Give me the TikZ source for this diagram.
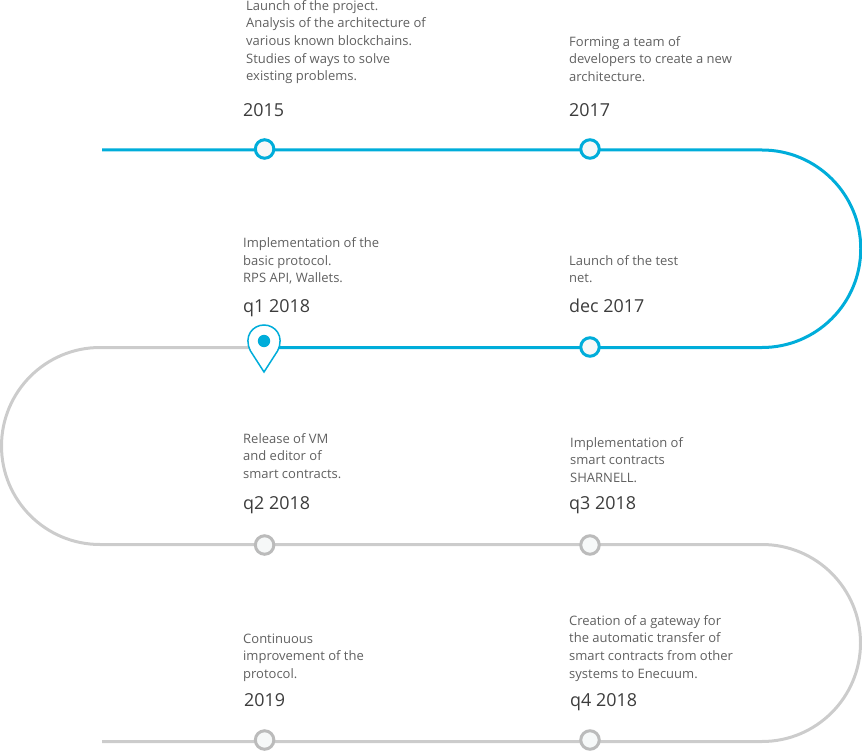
\documentclass[tikz,border=0pt]{standalone}
\usepackage{fontspec}
\setmainfont{Open Sans}
\definecolor{bluec}{HTML}{00ADDA}
\definecolor{grayc}{HTML}{CCCCCC}
\definecolor{grayd}{HTML}{BBBBBB}
\definecolor{dotfill}{HTML}{F6F8F8}
\definecolor{txt}{HTML}{606060}
\definecolor{yr}{HTML}{3C3C3C}
\tikzset{x=1pt,y=-1pt,
 bl/.style={draw=bluec,line width=3pt},
 gl/.style={draw=grayc,line width=3pt},
 bdot/.style={circle,draw=bluec,line width=3pt,fill=dotfill,minimum size=18.5pt,inner sep=0pt},
 gdot/.style={circle,draw=grayd,line width=3pt,fill=dotfill,minimum size=18.5pt,inner sep=0pt},
 desc/.style={anchor=north west,inner sep=0pt,align=left,text=txt,font=\fontsize{13}{17.65}\selectfont},
 year/.style={anchor=base west,inner sep=0pt,text=yr,font=\fontsize{17.9}{20}\selectfont}}
\begin{document}
\begin{tikzpicture}
\useasboundingbox (0,0) rectangle (862,751);
\coordinate (b0) at (102,150);
\coordinate (b1) at (762,150);
\coordinate (b2) at (762,347);
\coordinate (pin) at (264,347.5);
\coordinate (g1) at (100,347.5);
\coordinate (g2) at (100,544.5);
\coordinate (g3) at (762,544.5);
\coordinate (g4) at (762,741.5);
\coordinate (g5) at (102,741.5);
\draw[gl] (pin) -- (g1) arc[start angle=-90,end angle=-270,radius=98.5] -- (g3) arc[start angle=-90,end angle=90,radius=98.5] -- (g5);
\draw[bl] (b0) -- (b1) arc[start angle=-90,end angle=90,radius=98.75] -- (pin);
\node[bdot] (n1) at (264.6,149) {};
\node[bdot] (n2) at (590,149) {};
\node[bdot] (n3) at (590,347) {};
\node[gdot] (n4) at (264.6,545) {};
\node[gdot] (n5) at (590,545) {};
\node[gdot] (n6) at (264.6,740) {};
\node[gdot] (n7) at (590,740) {};
\draw[draw=bluec,line width=1.5pt,fill=white,line join=miter] (264,372) -- (250.5,351) .. controls (243,336) and (253,325) .. (264,325) .. controls (275,325) and (285,336) .. (277.5,351) -- cycle;
\fill[bluec] (264,341) circle (6.2);
\node[desc] at (246,0) {Launch of the project.\\Analysis of the architecture of\\various known blockchains.\\Studies of ways to solve\\existing problems.};
\node[desc] at (569,36) {Forming a team of\\developers to create a new\\architecture.};
\node[desc] at (243,237.5) {Implementation of the\\basic protocol.\\RPS API, Wallets.};
\node[desc] at (569,255) {Launch of the test\\net.};
\node[desc] at (243,433) {Release of VM\\and editor of\\smart contracts.};
\node[desc] at (570,437) {Implementation of\\smart contracts\\SHARNELL.};
\node[desc] at (243,633.5) {Continuous\\improvement of the\\protocol.};
\node[desc] at (569,615) {Creation of a gateway for\\the automatic transfer of\\smart contracts from other\\systems to Enecuum.};
\node[year] at (243,116.7) {2015};
\node[year] at (569,116.7) {2017};
\node[year] at (243,312.7) {q1 2018};
\node[year] at (569,312.7) {dec 2017};
\node[year] at (243,509) {q2 2018};
\node[year] at (569,509) {q3 2018};
\node[year] at (244,706) {2019};
\node[year] at (570,706) {q4 2018};
\end{tikzpicture}
\end{document}
